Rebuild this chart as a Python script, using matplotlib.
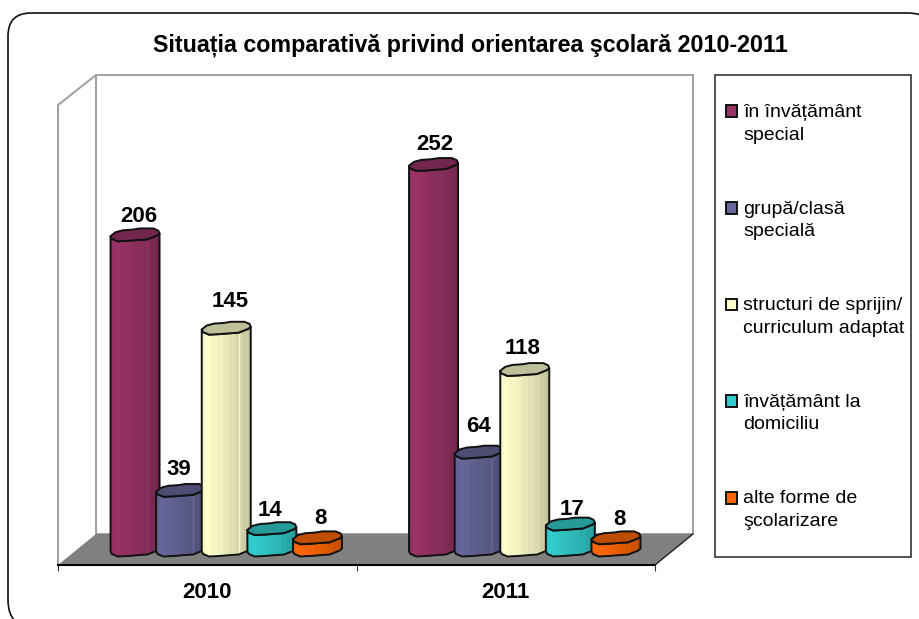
import matplotlib
matplotlib.use("Agg")
import matplotlib.pyplot as plt
from matplotlib.patches import Polygon, Rectangle, PathPatch
from matplotlib.path import Path
from matplotlib.legend_handler import HandlerPatch
from matplotlib.transforms import Affine2D
from matplotlib.colors import to_rgb

plt.rcParams['font.family'] = ['Liberation Sans', 'DejaVu Sans']

# ---------- data ----------
title = "Situația comparativă privind orientarea şcolară 2010-2011"
years = ["2010", "2011"]
series_names = ["în învățământ\nspecial", "grupă/clasă\nspecială",
                "structuri de sprijin/\ncurriculum adaptat",
                "învățământ la\ndomiciliu", "alte forme de\nşcolarizare"]
values_2010 = [206, 39, 145, 14, 8]
values_2011 = [252, 64, 118, 17, 8]
colors = ["#993366", "#666699", "#FFFFCC", "#33CCCC", "#FF6600"]

# ---------- style ----------
W, H = 919, 619
PX = Affine2D().scale(1, -1).translate(0, H)   # top-left pixel coordinates
Y_PER_PX = 1 / 1.53
CAP = 6.5 * Y_PER_PX
BAR_W = 49 / 298.5
STEP = 45.6 / 298.5
DEPTH = 19 / 298.5
label_nudge = {2010: [(4, 18), (-2, 21), (4, 27), (-2, 18), (3, 19)],
               2011: [(1, 20), (-1, 26), (-2, 21), (2, 14), (3, 18)]}
CAP_TOP = [(-1, -.2), (-.8, .4), (-.5, .7), (-.1, .8), (.2, .98), (.75, .98), (.95, .65), (1, .2)]
CAP_LOW = [(.9, -.1), (.5, -.7), (.1, -.8), (-.2, -.9), (-.7, -1), (-.95, -.6)]
SHADE = [.97, 1, 1, .97, .97, .94, .94, .91, .91, .88, .88, .85, .85, .8, .8, .76]


def shade(c, f):
    return tuple(min(1, v * f) for v in to_rgb(c))


def first_line_marker(legend, orig_handle, xdescent, ydescent, width, height, fontsize):
    return Rectangle((-xdescent, -ydescent + 0.62 * fontsize), width, height)


fig = plt.figure(figsize=(W / 100, H / 100), dpi=100)
ax = fig.add_axes([58 / W, 1 - 565 / H, 597 / W, 490 / H])
ax.set_xlim(-.5, 1.5)
ax.set_ylim(-15 * Y_PER_PX, 475 * Y_PER_PX)
ax.patch.set_alpha(0)
for s in ("top", "left", "right"):
    ax.spines[s].set_visible(False)
ax.spines["bottom"].set_linewidth(1.5)
ax.spines["bottom"].set_zorder(3)
ax.set_yticks([])
ax.set_xticks([0, 1], years, fontsize=16, fontweight="bold")
ax.set_xticks([-.5, .5, 1.5], minor=True)
ax.tick_params(axis="x", which="major", length=0, pad=12)
ax.tick_params(axis="x", which="minor", length=4.5, width=.8, color="#333333")

# outer rounded frame, running off the canvas on the right and at the bottom
frame = Path([(36, 628), (8, 628), (8, 600), (8, 36), (8, 13), (31, 13), (908, 13), (935, 13), (935, 40)],
             [Path.MOVETO, Path.CURVE3, Path.CURVE3, Path.LINETO, Path.CURVE3, Path.CURVE3,
              Path.LINETO, Path.CURVE3, Path.CURVE3])
fig.add_artist(PathPatch(frame, transform=PX, fc="none", ec="#111111", lw=1.2))

# 3-D box
GRAY = "#a0a0a0"
ax.add_patch(Polygon([(58, 565), (58, 105), (96, 75), (693, 75), (693, 534), (96, 534), (96, 75)],
                     closed=False, transform=PX, fc="none", ec=GRAY, lw=1.4, clip_on=False, zorder=1))
ax.add_patch(Polygon([(58, 565), (655, 565), (693, 534), (96, 534)], transform=PX,
                     fc="#808080", ec="none", clip_on=False, zorder=1.5))
ax.plot([655, 693], [565, 534], transform=PX, color="#222222", lw=1, clip_on=False, zorder=1.6)


def cylinder(xc, v, color, z, seam):
    hw = BAR_W / 2
    top = [(xc + a * hw, v + b * CAP) for a, b in CAP_TOP + CAP_LOW]
    low = [(xc + a * hw, v + b * CAP) for a, b in CAP_LOW]
    bottom = [(xc + a * hw, b * CAP) for a, b in reversed(CAP_LOW)]
    outline = [(xc + hw, v + .2 * CAP)] + low + [(xc - hw, v - .2 * CAP), (xc - hw, -.2 * CAP)] \
        + bottom + [(xc + hw, .2 * CAP)]
    body = Polygon(outline, fc="none", ec="none", zorder=z)
    ax.add_patch(body)
    n = len(SHADE)
    for k, f in enumerate(SHADE):
        r = Rectangle((xc - hw + k * 2 * hw / n, -2 * CAP), 2 * hw / n * 1.05, v + 4 * CAP,
                      fc=shade(color, f), ec="none", zorder=z)
        ax.add_patch(r)
        r.set_clip_path(body)
    if seam:
        line, = ax.plot([xc + .5 * hw] * 2, [-CAP, v], color=shade(color, 1.12), lw=.5, zorder=z)
        line.set_clip_path(body)
    ax.add_patch(Polygon(outline, fc="none", ec="#111111", lw=1.4, zorder=z + .1,
                         joinstyle="round", clip_on=False))
    ax.add_patch(Polygon(top, fc=shade(color, .75), ec="#111111", lw=1.4, zorder=z + .2,
                         joinstyle="round", clip_on=False))


for i, (year, vals) in enumerate(zip(years, [values_2010, values_2011])):
    for j, (v, c) in enumerate(zip(vals, colors)):
        xc = i + (j - 2) * STEP + DEPTH
        cylinder(xc, v, c, 2 + j, seam=(i == 0 or j == 1) and v > 20)
        dx, dy = label_nudge[int(year)][j]
        ax.annotate(str(v), (xc, v), xytext=(dx * .72, dy * .72), textcoords="offset points",
                    ha="center", va="center", fontsize=16, fontweight="bold", zorder=10,
                    annotation_clip=False)

fig.text(470 / W, 1 - 45 / H, title, ha="center", va="center", fontsize=16.75, fontweight="bold")

# legend
fig.add_artist(Rectangle((715, 75), 196, 482, transform=PX, fc="white", ec="#333333", lw=1.2))
handles = [Rectangle((0, 0), 1, 1, fc=c, ec="#111111", lw=1.4) for c in colors]
leg = fig.legend(handles, series_names, loc="upper left",
                 handler_map={Rectangle: HandlerPatch(patch_func=first_line_marker)},
                 bbox_to_anchor=(726 / W, 1 - 104 / H), frameon=False, fontsize=14,
                 handlelength=.56, handleheight=.56, handletextpad=.32, labelspacing=2.93,
                 borderpad=0, borderaxespad=0, alignment="left")
for t in leg.get_texts():
    t.set_linespacing(1.43)

fig.savefig("out.png", dpi=100)
